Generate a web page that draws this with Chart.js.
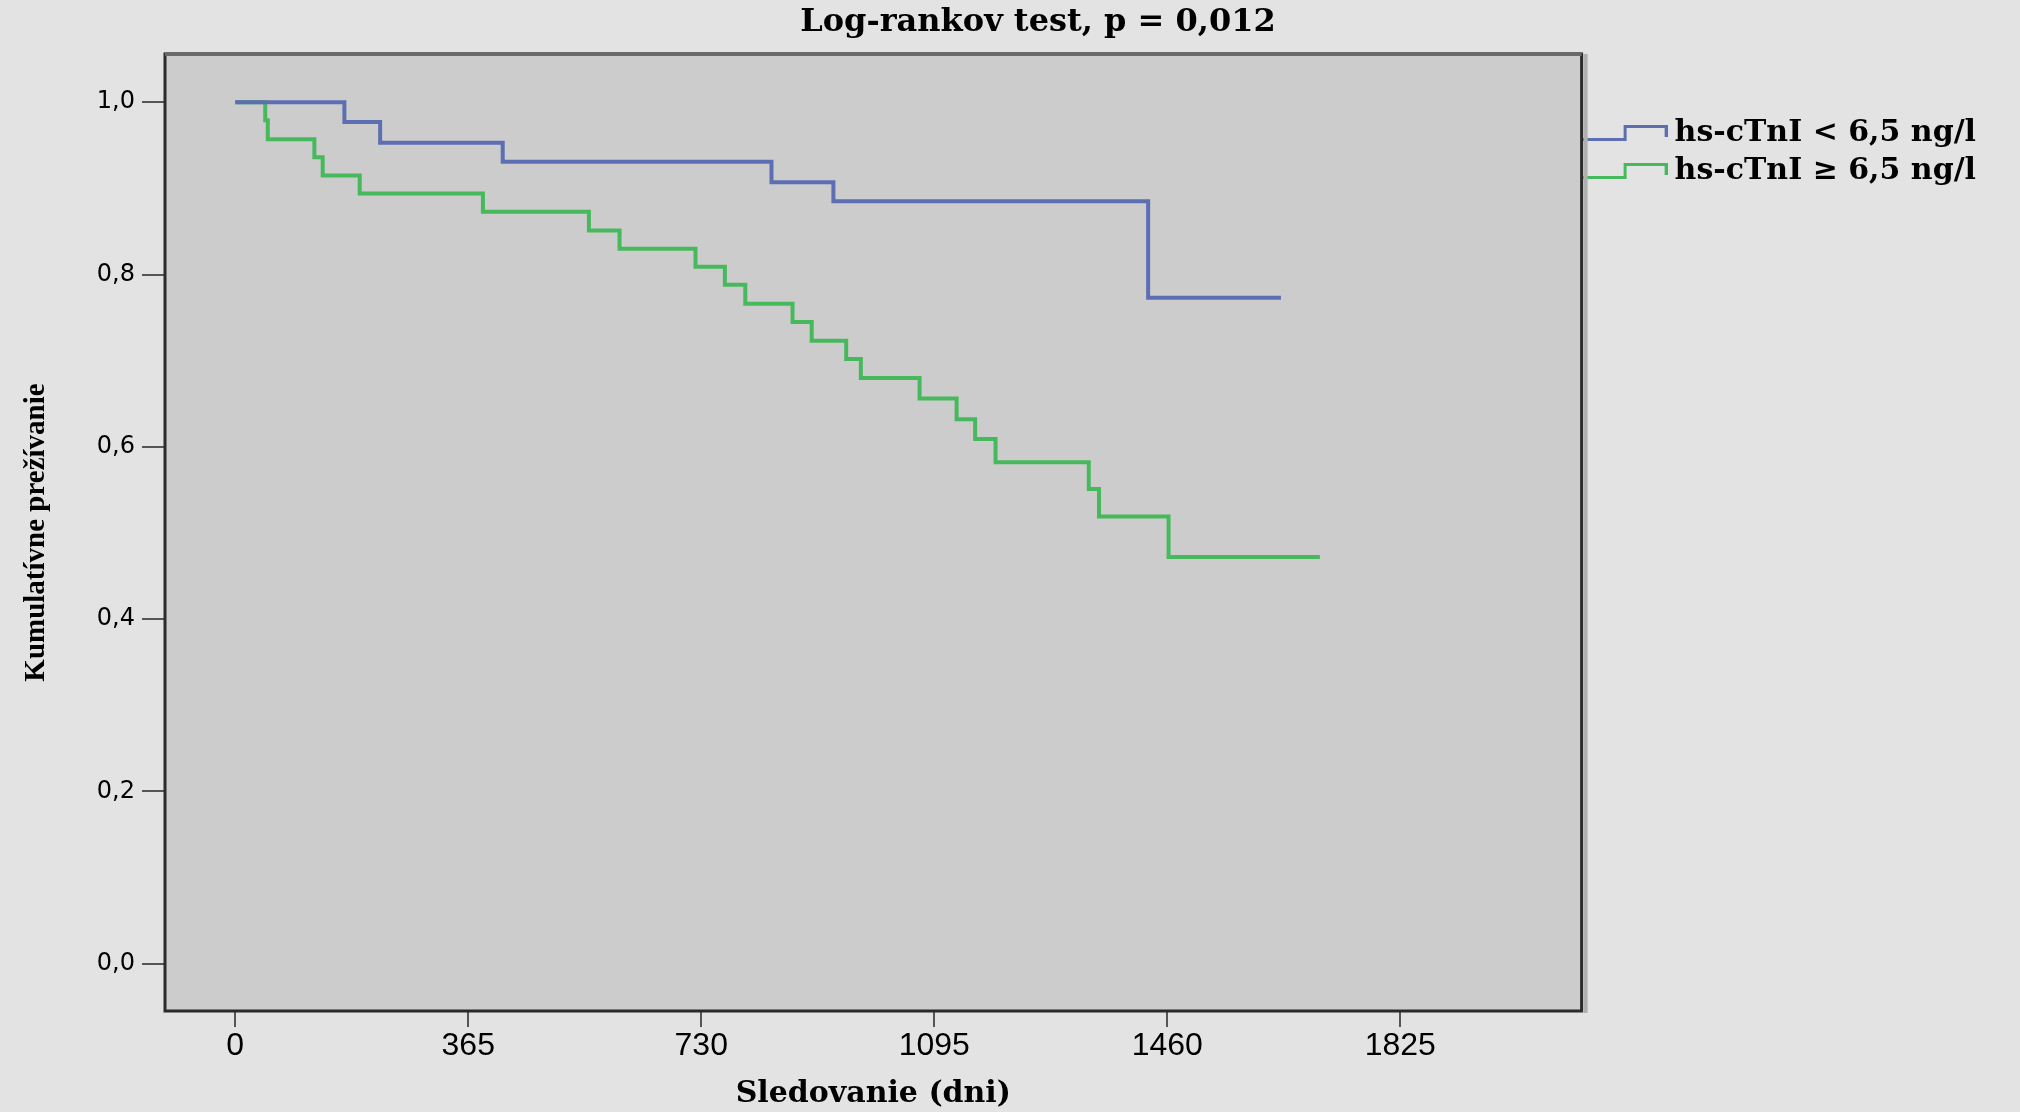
<!DOCTYPE html>
<html>
<head>
<meta charset="utf-8">
<script src="https://cdn.jsdelivr.net/npm/chart.js@4.4.1/dist/chart.umd.min.js"></script>
<style>
  html, body { margin: 0; padding: 0; background: #e3e3e3; }
  #wrap { width: 2020px; height: 1112px; }
</style>
</head>
<body>
<div id="wrap"><canvas id="kmChart" width="2020" height="1112"></canvas></div>
<script>
const xTicks = [0, 365, 730, 1095, 1460, 1825];
const yTicks = [0, 0.2, 0.4, 0.6, 0.8, 1.0];
const yTickLabels = ['0,0', '0,2', '0,4', '0,6', '0,8', '1,0'];
const groupLabels = ['hs-cTnI < 6,5 ng/l', 'hs-cTnI \u2265 6,5 ng/l'];

// časy (dni) a kumulatívne prežívanie, odčítané z grafu
const lowDays = [0, 171, 227, 419, 840, 937, 1430, 1638];
const lowSurv = [1.0, 0.977, 0.953, 0.931, 0.907, 0.885, 0.773, 0.773];
const highDays = [0, 47, 51, 124, 137, 195, 388, 554, 602, 721, 767, 799, 873, 903, 957, 980, 1072, 1130, 1159, 1191, 1337, 1353, 1462, 1699];
const highSurv = [1.0, 0.979, 0.957, 0.936, 0.915, 0.894, 0.873, 0.851, 0.830, 0.809, 0.788, 0.766, 0.745, 0.723, 0.702, 0.680, 0.656, 0.632, 0.609, 0.582, 0.551, 0.519, 0.472, 0.472];

const blue = '#5d6eb3';
const green = '#47b95d';

// malá ikonka schodu do legendy
function stepIcon(color) {
  const c = document.createElement('canvas');
  c.width = 86; c.height = 18;
  const g = c.getContext('2d');
  g.strokeStyle = color;
  g.lineWidth = 3;
  g.beginPath();
  g.moveTo(0, 15.5);
  g.lineTo(43.5, 15.5);
  g.lineTo(43.5, 2.5);
  g.lineTo(84.5, 2.5);
  g.lineTo(84.5, 13);
  g.stroke();
  return c;
}

const plotFrame = {
  id: 'plotFrame',
  beforeDraw(chart) {
    const {ctx, chartArea: a} = chart;
    ctx.save();
    ctx.fillStyle = '#cccccc';
    ctx.fillRect(a.left, a.top, a.right - a.left, a.bottom - a.top);
    ctx.restore();
  },
  afterDraw(chart) {
    const {ctx, chartArea: a} = chart;
    ctx.save();
    ctx.fillStyle = '#b0b0b0';
    ctx.fillRect(a.right + 2, a.top, 4, a.bottom - a.top + 2);
    ctx.strokeStyle = '#2b2b2b';
    ctx.lineWidth = 3;
    ctx.strokeRect(a.left, a.top, a.right - a.left, a.bottom - a.top);
    ctx.strokeStyle = '#6a6a6a';
    ctx.lineWidth = 4;
    ctx.beginPath();
    ctx.moveTo(a.left, a.top);
    ctx.lineTo(a.right, a.top);
    ctx.stroke();
    ctx.restore();
  }
};

const ctx = document.getElementById('kmChart').getContext('2d');
const kmChart = new Chart(ctx, {
  type: 'line',
  data: {
    datasets: [
      {
        label: groupLabels[0],
        data: lowDays.map((d, i) => ({x: d, y: lowSurv[i]})),
        stepped: 'before',
        borderColor: blue,
        borderWidth: 4,
        pointRadius: 0,
        pointStyle: stepIcon(blue),
        fill: false
      },
      {
        label: groupLabels[1],
        data: highDays.map((d, i) => ({x: d, y: highSurv[i]})),
        stepped: 'before',
        borderColor: green,
        borderWidth: 4,
        pointRadius: 0,
        pointStyle: stepIcon(green),
        fill: false
      }
    ]
  },
  options: {
    responsive: false,
    animation: false,
    events: [],
    // ľavý okraj posúva nadpis doprava, os y je preto užšia
    layout: { padding: {left: 90, right: 34, top: 0, bottom: 0} },
    scales: {
      x: {
        type: 'linear',
        min: -110,
        max: 2109,
        afterBuildTicks: s => { s.ticks = xTicks.map(v => ({value: v})); },
        afterFit: s => { s.height = 101; },
        ticks: {
          color: '#000',
          padding: 0,
          maxRotation: 0,
          autoSkip: false,
          font: {family: 'Liberation Sans', size: 32},
          callback: v => String(v)
        },
        grid: { drawOnChartArea: false, drawTicks: true, tickLength: 16, color: '#555', lineWidth: 2 },
        border: { display: false },
        title: {
          display: true,
          text: 'Sledovanie (dni)',
          color: '#000',
          font: {family: 'DejaVu Serif', weight: 'bold', size: 30, lineHeight: 1.2},
          padding: {top: 0, bottom: 0}
        }
      },
      y: {
        min: -0.055,
        max: 1.056,
        afterBuildTicks: s => { s.ticks = yTicks.map(v => ({value: v})); },
        afterFit: s => { s.width = 75; },
        ticks: {
          color: '#000',
          padding: 7,
          font: {family: 'DejaVu Sans', size: 24},
          callback: (v, i) => yTickLabels[i]
        },
        grid: { drawOnChartArea: false, drawTicks: true, tickLength: 23, color: '#555', lineWidth: 2 },
        border: { display: false },
        title: {
          display: true,
          text: 'Kumulatívne prežívanie',
          color: '#000',
          font: {family: 'Liberation Serif', weight: 'bold', size: 29, lineHeight: 1.2},
          padding: {top: -71, bottom: 0}
        }
      }
    },
    plugins: {
      title: {
        display: true,
        text: 'Log-rankov test, p = 0,012',
        color: '#000',
        font: {family: 'DejaVu Serif', weight: 'bold', size: 32, lineHeight: 1.2},
        padding: {top: 3, bottom: 12.6}
      },
      legend: {
        position: 'right',
        align: 'start',
        fullSize: false,
        title: { display: true, text: '', padding: {top: 46, bottom: 0}, font: {size: 10, lineHeight: 1} },
        labels: {
          usePointStyle: true,
          pointStyleWidth: 70,
          padding: 8,
          color: '#000',
          font: {family: 'DejaVu Serif', weight: 'bold', size: 30}
        }
      },
      tooltip: { enabled: false }
    }
  },
  plugins: [plotFrame]
});
</script>
</body>
</html>
